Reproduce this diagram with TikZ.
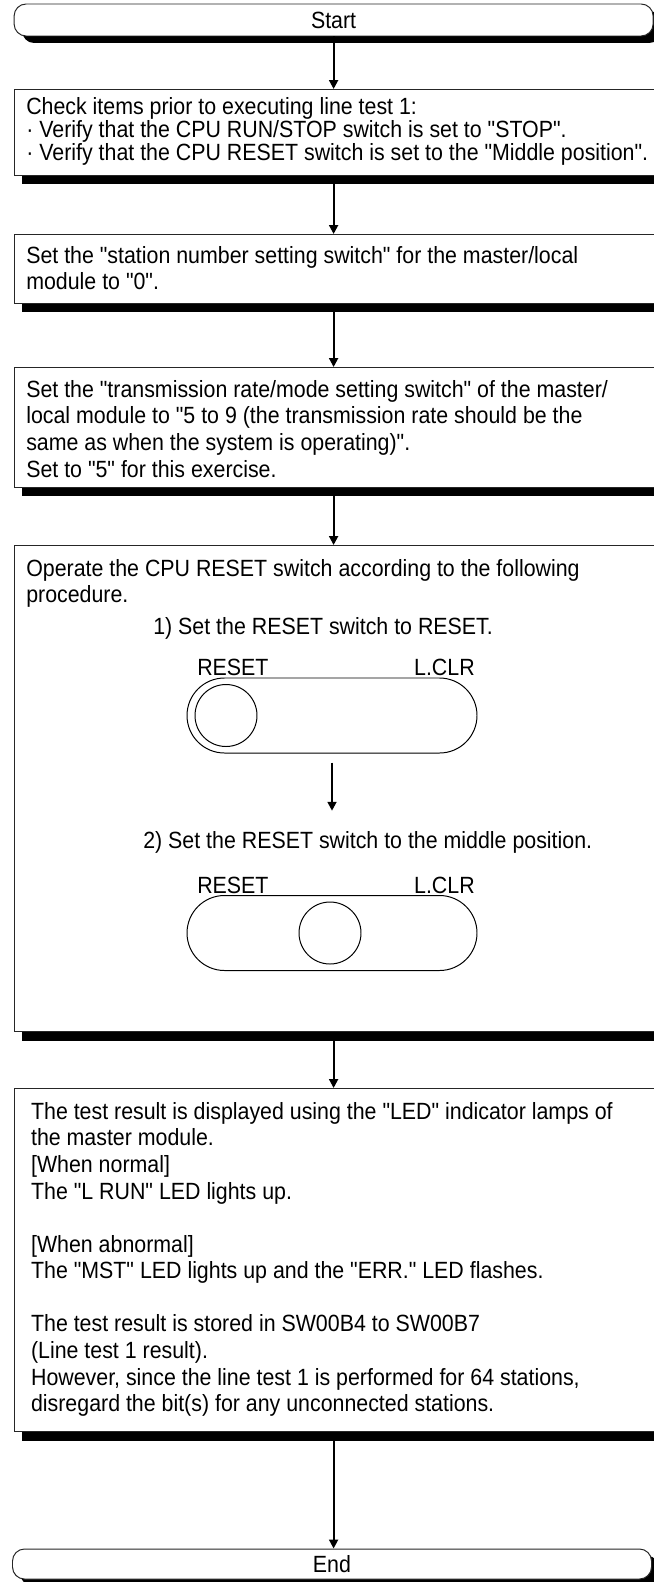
\documentclass[tikz,border=0pt]{standalone}
\usepackage{fontspec}
\setmainfont{Liberation Sans}[FakeStretch=0.91, Ligatures=TeXOff]
\usetikzlibrary{positioning}
\usetikzlibrary{shadows}
\usetikzlibrary{arrows.meta}

\tikzset{
    terminal/.style={draw=black!85, line width=0.7pt, fill=white, rounded corners=0.3cm,
        minimum width=15.975cm, minimum height=0.8cm, font=\fontsize{16.7}{18.9}\selectfont,
        drop shadow={shadow xshift=0.2cm, shadow yshift=-0.175cm, opacity=1, fill=black}},
    stepbox/.style={draw=black!85, line width=0.7pt, fill=white, anchor=north west,
        minimum width=16.3cm, inner sep=0pt,
        drop shadow={shadow xshift=0.2cm, shadow yshift=-0.225cm, opacity=1, fill=black}},
    steptext/.style={inner sep=0pt, align=left, font=\fontsize{16.7}{18.9}\selectfont},
    flowarrow/.style={-{Triangle[length=0.22cm, width=0.22cm]}, line width=1.4pt},
    switchbody/.style={draw, line width=0.7pt, rounded corners=0.9375cm,
        minimum width=7.25cm, minimum height=1.875cm},
    knob/.style={draw, circle, line width=0.7pt, minimum size=1.55cm, inner sep=0pt},
}

\begin{document}
\begin{tikzpicture}

    \clip (0,0) rectangle (16.35,-39.55);

    % terminals
    \draw (8.34,-0.5) node[terminal] (Start) {Start};
    \draw (8.3,-39.1) node[terminal, minimum height=0.75cm] (End) {End};

    % step boxes
    \draw (0.35,-2.225) node[stepbox, minimum height=2.15cm] (Check Items) {};
    \draw (0.35,-5.85) node[stepbox, minimum height=1.725cm] (Station Number) {};
    \draw (0.35,-9.175) node[stepbox, minimum height=3.0cm] (Transmission Rate) {};
    \draw (0.35,-13.625) node[stepbox, minimum height=12.15cm] (Reset Procedure) {};
    \draw (0.35,-27.2) node[stepbox, minimum height=8.575cm] (Test Result) {};

    \node[steptext, font=\fontsize{16.7}{14.9}\selectfont,
        below right=0.2cm and 0.3cm of Check Items.north west] (Check Items Text)
        {Check items prior to executing line test 1:\\
         · Verify that the CPU RUN/STOP switch is set to "STOP".\\
         · Verify that the CPU RESET switch is set to the "Middle position".};

    \node[steptext, below right=0.3cm and 0.3cm of Station Number.north west] (Station Number Text)
        {Set the "station number setting switch" for the master/local\\
         module to "0".};

    \node[steptext, below right=0.325cm and 0.3cm of Transmission Rate.north west] (Transmission Rate Text)
        {Set the "transmission rate/mode setting switch" of the master/\\
         local module to "5 to 9 (the transmission rate should be the\\
         same as when the system is operating)".\\
         Set to "5" for this exercise.};

    \node[steptext, below right=0.35cm and 0.3cm of Reset Procedure.north west] (Reset Procedure Text)
        {Operate the CPU RESET switch according to the following\\
         procedure.};

    % switch before / after
    \draw (3.825,-15.85) node[steptext, anchor=base west] (Reset Step) {1) Set the RESET switch to RESET.};
    \draw (8.3,-17.8875) node[switchbody] (Reset Switch) {};
    \draw (5.65,-17.8875) node[knob] (Reset Knob) {};
    \draw (4.925,-16.875) node[steptext, anchor=base west] (Reset Label One) {RESET};
    \draw (11.875,-16.875) node[steptext, anchor=base east] (Clear Label One) {L.CLR};

    \draw (3.575,-21.2) node[steptext, anchor=base west] (Middle Step) {2) Set the RESET switch to the middle position.};
    \draw (8.3,-23.325) node[switchbody] (Middle Switch) {};
    \draw (8.25,-23.325) node[knob] (Middle Knob) {};
    \draw (4.925,-22.325) node[steptext, anchor=base west] (Reset Label Two) {RESET};
    \draw (11.875,-22.325) node[steptext, anchor=base east] (Clear Label Two) {L.CLR};

    \node[steptext, below right=0.35cm and 0.42cm of Test Result.north west] (Test Result Text)
        {The test result is displayed using the "LED" indicator lamps of\\
         the master module.\\
         {[When normal]}\\
         The "L RUN" LED lights up.\\[18.9pt]
         {[When abnormal]}\\
         The "MST" LED lights up and the "ERR." LED flashes.\\[18.9pt]
         The test result is stored in SW00B4 to SW00B7\\
         (Line test 1 result).\\
         However, since the line test 1 is performed for 64 stations,\\
         disregard the bit(s) for any unconnected stations.};

    % connectors
    \draw[flowarrow] (Start.south) -- (Start.south |- Check Items.north);
    \draw[flowarrow] (Start.south |- Check Items.south) -- (Start.south |- Station Number.north);
    \draw[flowarrow] (Start.south |- Station Number.south) -- (Start.south |- Transmission Rate.north);
    \draw[flowarrow] (Start.south |- Transmission Rate.south) -- (Start.south |- Reset Procedure.north);
    \draw[flowarrow] ([yshift=-0.225cm]Reset Switch.south) -- ([yshift=0.5cm]Reset Switch.south |- Middle Step.north);
    \draw[flowarrow] (Start.south |- Reset Procedure.south) -- (Start.south |- Test Result.north);
    \draw[flowarrow] (Start.south |- Test Result.south) -- (End.north -| Start.south);

\end{tikzpicture}
\end{document}
